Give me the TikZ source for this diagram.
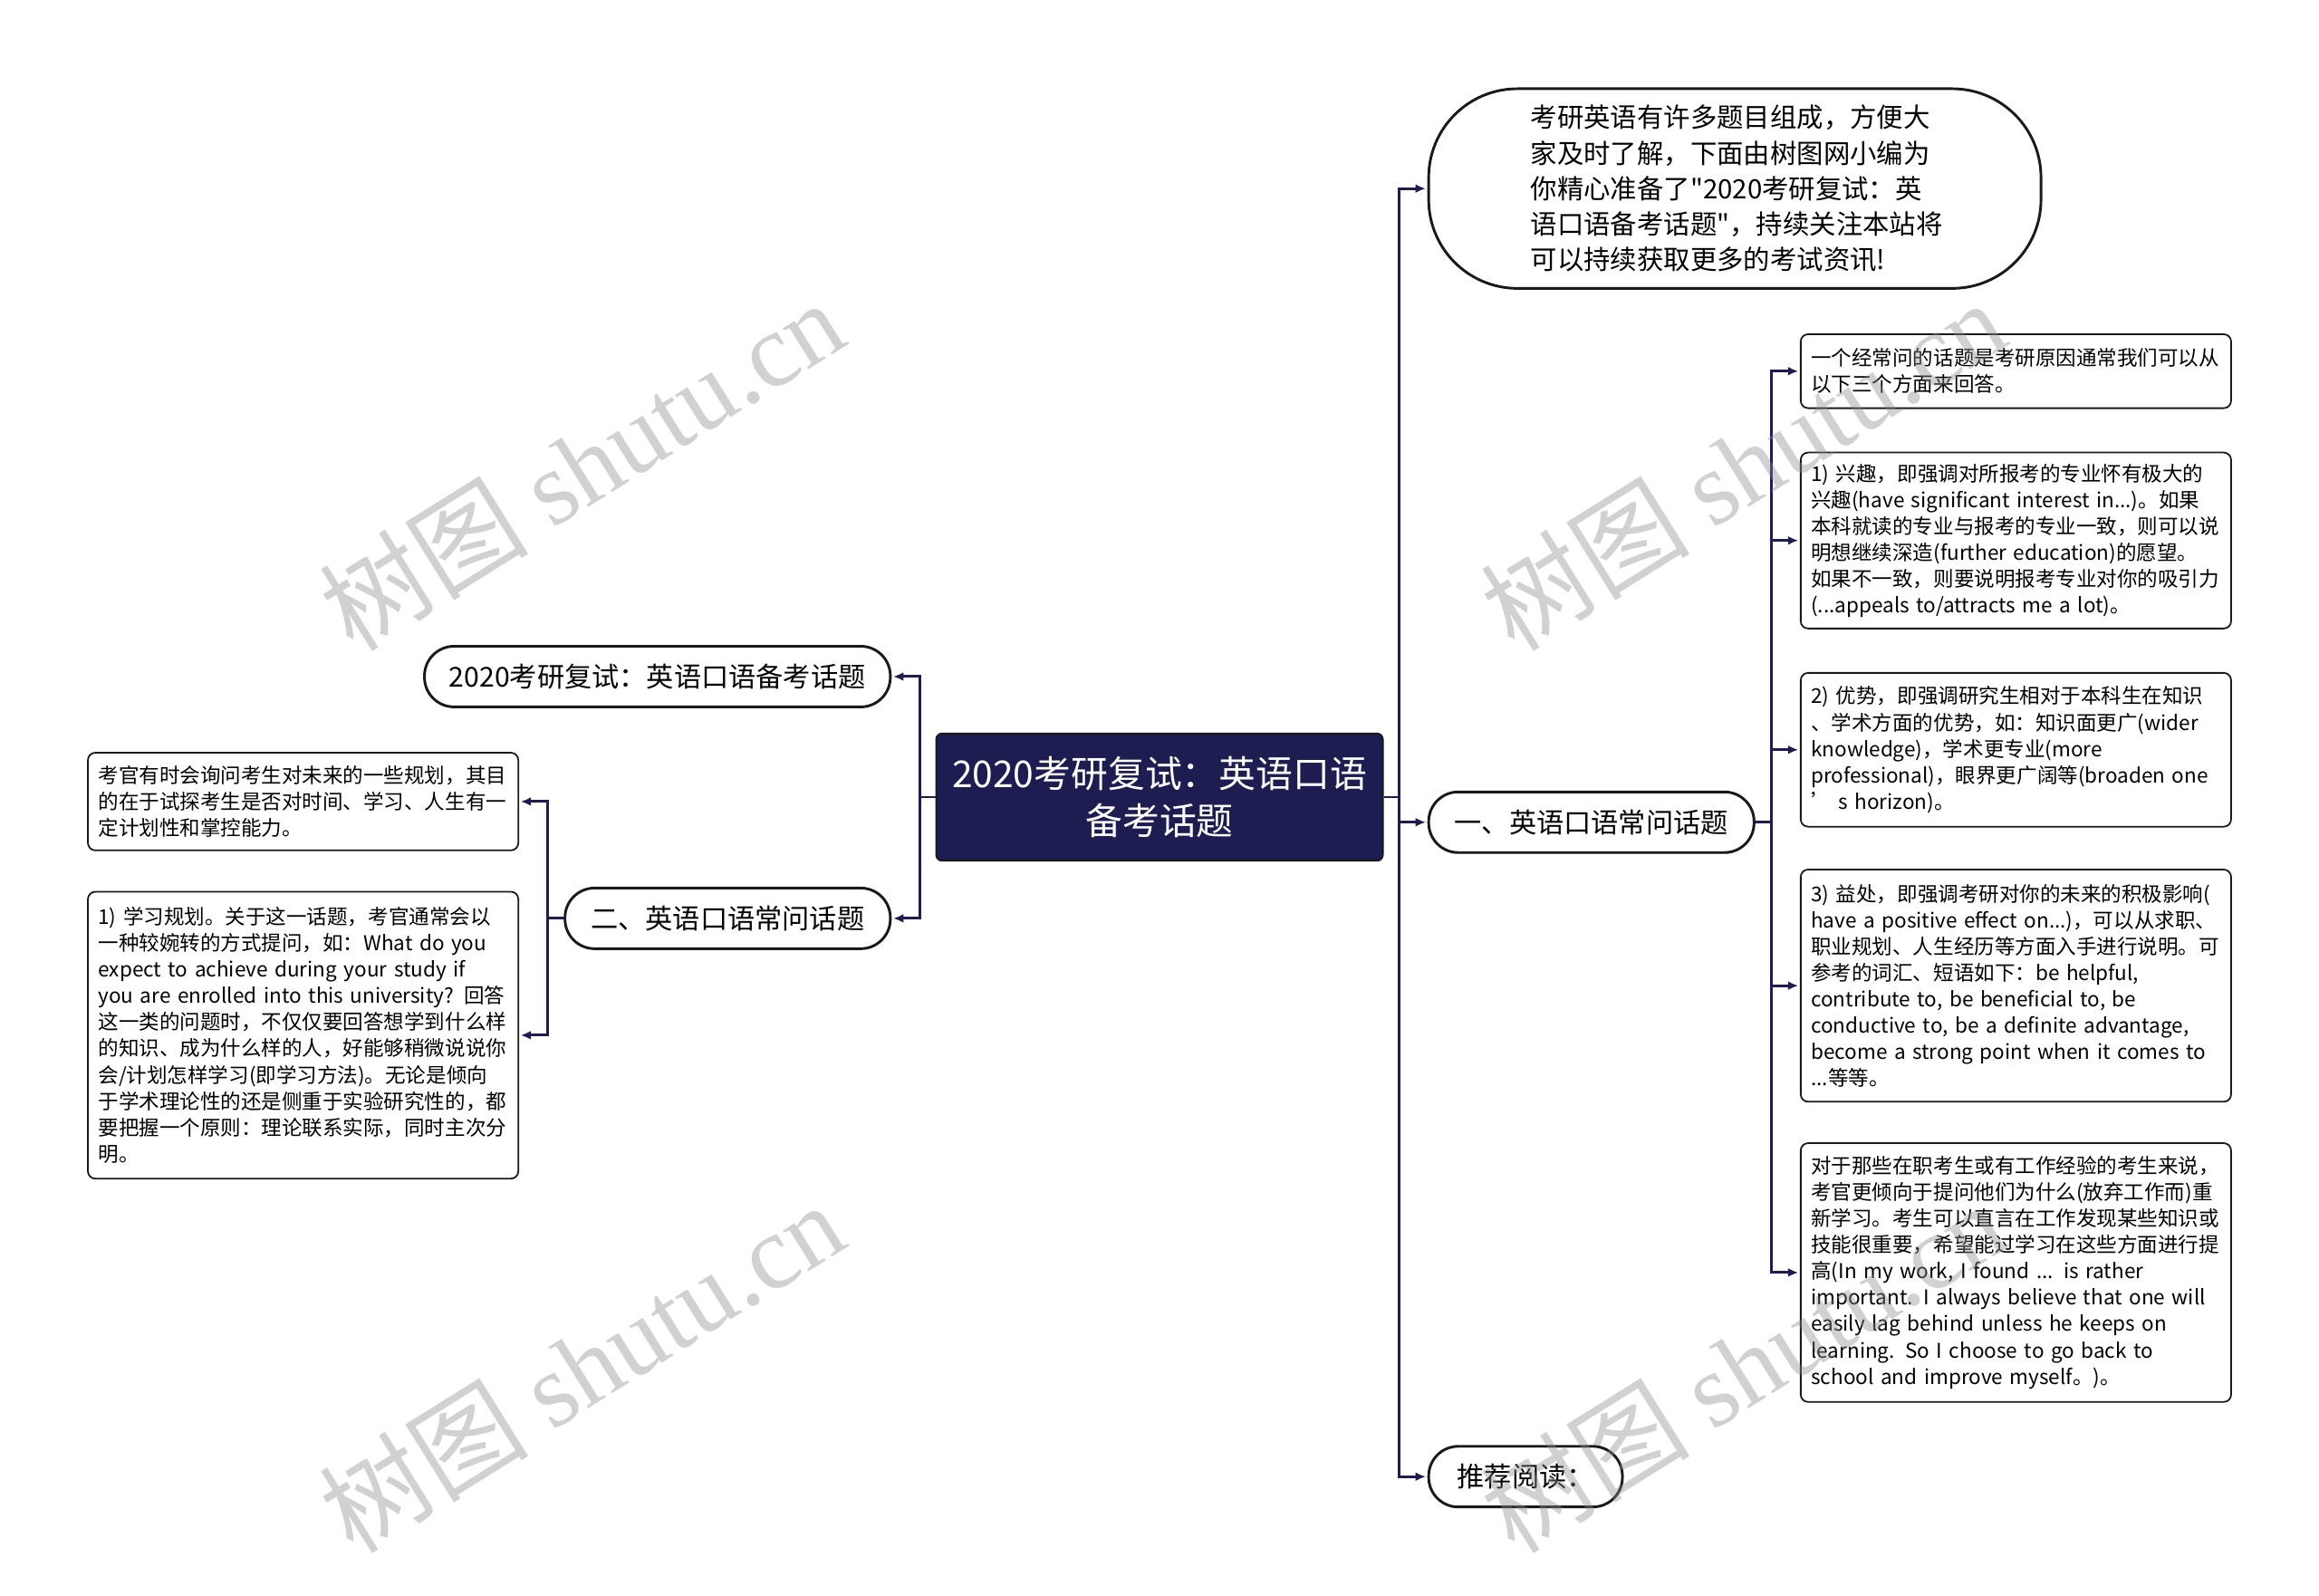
\documentclass[tikz,border=0pt]{standalone}
\usepackage{fontspec}
\setmainfont{Noto Sans CJK SC}[Ligatures=TeXOff]
\newfontfamily\wmlatin{Liberation Serif}
\usepackage{tikz}
\usetikzlibrary{arrows.meta,positioning,calc}
\definecolor{cA}{HTML}{1E1D52}
\definecolor{cB}{HTML}{1A1A1A}
\definecolor{cC}{HTML}{8C8C8C}
\tikzset{
  rootbox/.style={rounded corners=4pt,draw=cB,line width=1.2pt,fill=cA,text=white,align=center,
    minimum width=302pt,minimum height=86pt,inner sep=0pt,font=\fontsize{25}{32}\selectfont},
  pill/.style={rounded corners=20pt,draw=cB,line width=1.8pt,fill=white,minimum height=41pt,
    inner xsep=0pt,font=\fontsize{18.5}{24}\selectfont},
  leaf/.style={rounded corners=5pt,draw=cB,line width=1.1pt,fill=white,align=left,text width=277pt,
    inner xsep=7pt,inner ysep=4pt,font=\fontsize{13.8}{17.8}\selectfont},
  link/.style={line width=1.8pt,draw=cA},
  tip/.style={link,-{Latex[length=7pt,width=6pt]},shorten >=1pt},
  wmark/.style={rotate=32,text=cC,text opacity=0.4,inner sep=0pt,font=\fontsize{71}{71}\selectfont},
}

\begin{document}
\begin{tikzpicture}[x=1pt,y=-1pt]
\fill[white] (0,0) rectangle (1568,1079);
\useasboundingbox (0,0) rectangle (1568,1079);

% centre
\node[rootbox] (root) at (784,539) {2020考研复试：英语口语\\备考话题};

% right side
\node[pill,rounded corners=60pt,minimum width=414pt,minimum height=135pt,text width=276pt,align=left,
  font=\fontsize{18}{24}\selectfont] (intro) at (1173,127.5) {考研英语有许多题目组成，方便大\\家及时了解，下面由树图网小编为\\你精心准备了"2020考研复试：英\\语口语备考话题"，持续关注本站将\\可以持续获取更多的考试资讯!};
\node[pill,minimum width=220pt] (q1) at (1076,556) {一、英语口语常问话题};
\node[pill,minimum width=131pt] (rec) at (1031.5,998.5) {推荐阅读：};

\node[leaf,anchor=west,minimum height=50pt] (r1) at (1217,251) {一个经常问的话题是考研原因通常我们可以从\\以下三个方面来回答。};
\node[leaf,anchor=west,minimum height=119pt] (r2) at (1217,365.5) {1) 兴趣，即强调对所报考的专业怀有极大的\\兴趣(have significant interest in...)。如果\\本科就读的专业与报考的专业一致，则可以说\\明想继续深造(further education)的愿望。\\如果不一致，则要说明报考专业对你的吸引力\\(...appeals to/attracts me a lot)。};
\node[leaf,anchor=west,minimum height=104pt] (r3) at (1217,507) {2) 优势，即强调研究生相对于本科生在知识\\、学术方面的优势，如：知识面更广(wider\\knowledge)，学术更专业(more\\professional)，眼界更广阔等(broaden one\\’ s horizon)。};
\node[leaf,anchor=west,minimum height=157pt] (r4) at (1217,666.5) {3) 益处，即强调考研对你的未来的积极影响(\\have a positive effect on...)，可以从求职、\\职业规划、人生经历等方面入手进行说明。可\\参考的词汇、短语如下：be helpful,\\contribute to, be beneficial to, be\\conductive to, be a definite advantage,\\become a strong point when it comes to\\...等等。};
\node[leaf,anchor=west,minimum height=175pt] (r5) at (1217,860.5) {对于那些在职考生或有工作经验的考生来说，\\考官更倾向于提问他们为什么(放弃工作而)重\\新学习。考生可以直言在工作发现某些知识或\\技能很重要，希望能过学习在这些方面进行提\\高(In my work, I found ... is rather\\important. I always believe that one will\\easily lag behind unless he keeps on\\learning. So I choose to go back to\\school and improve myself。)。};

% left side
\node[pill,minimum width=315pt] (t2020) at (444.5,457.5) {2020考研复试：英语口语备考话题};
\node[pill,minimum width=220pt] (q2) at (492,621) {二、英语口语常问话题};

\node[leaf,anchor=east,minimum height=66pt] (l1) at (351,542) {考官有时会询问考生对未来的一些规划，其目\\的在于试探考生是否对时间、学习、人生有一\\定计划性和掌控能力。};
\node[leaf,anchor=east,minimum height=194pt] (l2) at (351,700) {1) 学习规划。关于这一话题，考官通常会以\\一种较婉转的方式提问，如：What do you\\expect to achieve during your study if\\you are enrolled into this university? 回答\\这一类的问题时，不仅仅要回答想学到什么样\\的知识、成为什么样的人，好能够稍微说说你\\会/计划怎样学习(即学习方法)。无论是倾向\\于学术理论性的还是侧重于实验研究性的，都\\要把握一个原则：理论联系实际，同时主次分\\明。};

% connectors
\coordinate (rj) at (946,539);
\coordinate (lj) at (622,539);
\coordinate (qj) at (1198,556);
\coordinate (pj) at (370,621);

\draw[link] (root.east) -- (rj);
\foreach \n in {intro,q1,rec} \draw[tip] (rj) |- (\n.west);
\draw[link] (q1.east) -- (qj);
\foreach \n in {r1,r2,r3,r4,r5} \draw[tip] (qj) |- (\n.west);

\draw[link] (root.west) -- (lj);
\foreach \n in {t2020,q2} \draw[tip] (lj) |- (\n.east);
\draw[link] (q2.west) -- (pj);
\foreach \n in {l1,l2} \draw[tip] (pj) |- (\n.east);

% watermark
\foreach \p [count=\i] in {(393,314),(393,924),(1178,314),(1178,924)}
  \node[wmark] (wm\i) at \p {树图 {\wmlatin shutu.cn}};
\end{tikzpicture}
\end{document}
